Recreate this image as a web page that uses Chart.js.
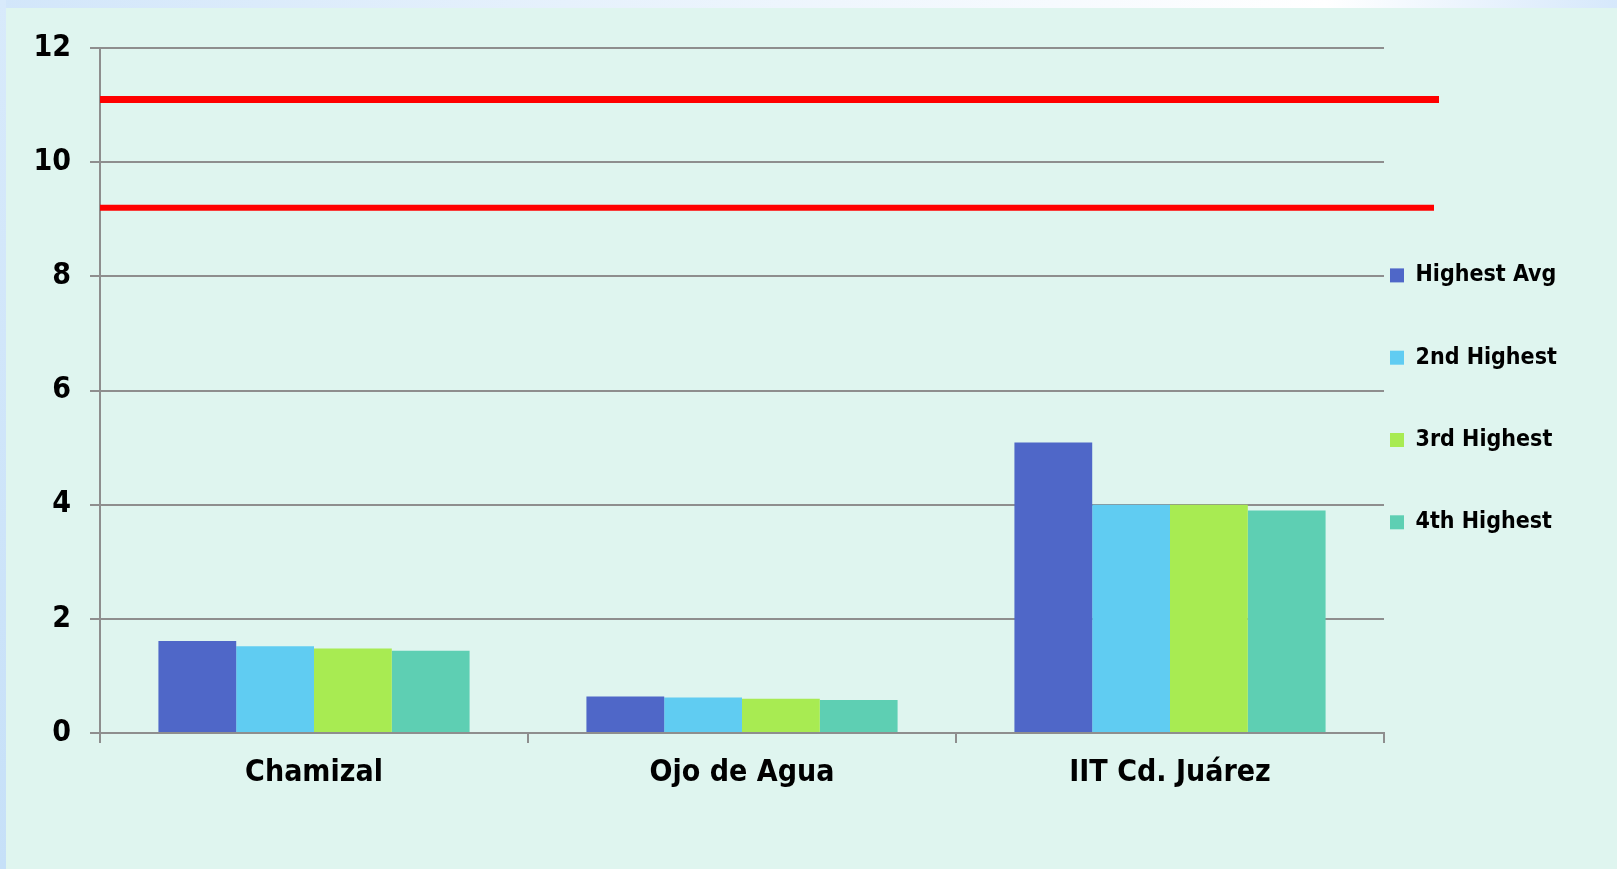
<!DOCTYPE html>
<html>
<head>
<meta charset="utf-8">
<script src="https://cdn.jsdelivr.net/npm/chart.js@4.4.1/dist/chart.umd.min.js"></script>
<style>
  html, body { margin: 0; padding: 0; width: 1617px; height: 869px; overflow: hidden; }
  body {
    background: linear-gradient(to right, #d2e6fa 0%, #e6f1fc 35%, #ffffff 82%, #d6e8fb 100%);
    position: relative;
  }
  #leftstrip { position: absolute; left: 0; top: 0; width: 6px; height: 869px;
    background: linear-gradient(to bottom, #d8eafb 0%, #c6e0f8 100%); }
  #panel { position: absolute; left: 6px; top: 8px; right: 0; bottom: 0; background: #dff5ef; }
  #c { position: absolute; left: 0; top: 0; }
</style>
</head>
<body>
<div id="leftstrip"></div>
<div id="panel"></div>
<canvas id="c" width="1617" height="869"></canvas>
<script>
// ---- data ----
const categories = ['Chamizal', 'Ojo de Agua', 'IIT Cd. Juárez'];
const seriesNames = ['Highest Avg', '2nd Highest', '3rd Highest', '4th Highest'];
const highestAvg = [1.61, 0.64, 5.09];
const secondHighest = [1.52, 0.62, 4.0];
const thirdHighest = [1.48, 0.60, 4.0];
const fourthHighest = [1.44, 0.58, 3.9];
const yTicks = [0, 2, 4, 6, 8, 10, 12];
const limitValues = [11.1, 9.2];

// ---- styles ----
const seriesColors = ['#4f67c8', '#60ccf2', '#a8eb52', '#5ecfb3'];
const FONT = "'DejaVu Sans Condensed', 'DejaVu Sans', sans-serif";
const GRID = '#8e8e8e';

const refLinePlugin = {
  id: 'refLines',
  afterDatasetsDraw(chart, args, opts) {
    const {ctx, chartArea, scales} = chart;
    ctx.save();
    opts.values.forEach((v, i) => {
      const y = scales.y.getPixelForValue(v);
      ctx.beginPath();
      ctx.strokeStyle = opts.color;
      ctx.lineWidth = opts.widths[i];
      ctx.moveTo(chartArea.left, y);
      ctx.lineTo(chartArea.right + opts.overhang[i], y);
      ctx.stroke();
    });
    ctx.restore();
  }
};

const legendWidthPlugin = {
  id: 'legendWidth',
  afterInit(chart, args, opts) {
    const lg = chart.legend;
    if (!lg) return;
    const orig = lg.fit.bind(lg);
    lg.fit = function () { orig(); this.width = opts.width; };
  }
};

const dataSets = [highestAvg, secondHighest, thirdHighest, fourthHighest].map((d, i) => ({
  label: seriesNames[i],
  data: d,
  backgroundColor: seriesColors[i],
  borderWidth: 0,
  barPercentage: 1.0,
  categoryPercentage: 0.727
}));

new Chart(document.getElementById('c'), {
  type: 'bar',
  data: { labels: categories, datasets: dataSets },
  plugins: [refLinePlugin, legendWidthPlugin],
  options: {
    responsive: false,
    animation: false,
    devicePixelRatio: 1,
    layout: { padding: { left: 0, top: 48, right: 0, bottom: 66 } },
    scales: {
      x: {
        afterFit(scale) { scale.height = 70; },
        grid: { display: true, drawOnChartArea: false, drawTicks: true, tickLength: 10, color: GRID, lineWidth: 2, offset: true },
        border: { display: true, color: GRID, width: 2 },
        ticks: { color: '#000', padding: 12, font: { family: FONT, size: 30, weight: 'bold' } }
      },
      y: {
        min: 0, max: 12,
        afterFit(scale) { scale.width = 100; },
        afterBuildTicks(scale) { scale.ticks = yTicks.map(v => ({ value: v })); },
        grid: { color: GRID, lineWidth: 2, drawTicks: true, tickLength: 10 },
        border: { display: true, color: GRID, width: 2 },
        ticks: { color: '#000', padding: 19, font: { family: FONT, size: 30, weight: 'bold' } }
      }
    },
    plugins: {
      tooltip: { enabled: false },
      refLines: { values: limitValues, color: '#ff0000', widths: [7, 6], overhang: [55, 50] },
      legendWidth: { width: 233 },
      legend: {
        position: 'right',
        align: 'center',
        labels: {
          color: '#000',
          boxWidth: 14,
          boxHeight: 14,
          padding: 6,
          font: { family: FONT, size: 23, weight: 'bold', lineHeight: '76.3px' },
          generateLabels(chart) {
            return Chart.defaults.plugins.legend.labels.generateLabels(chart)
              .map(l => Object.assign({}, l, { text: [l.text], lineWidth: 0 }));
          }
        }
      }
    }
  }
});
</script>
</body>
</html>
